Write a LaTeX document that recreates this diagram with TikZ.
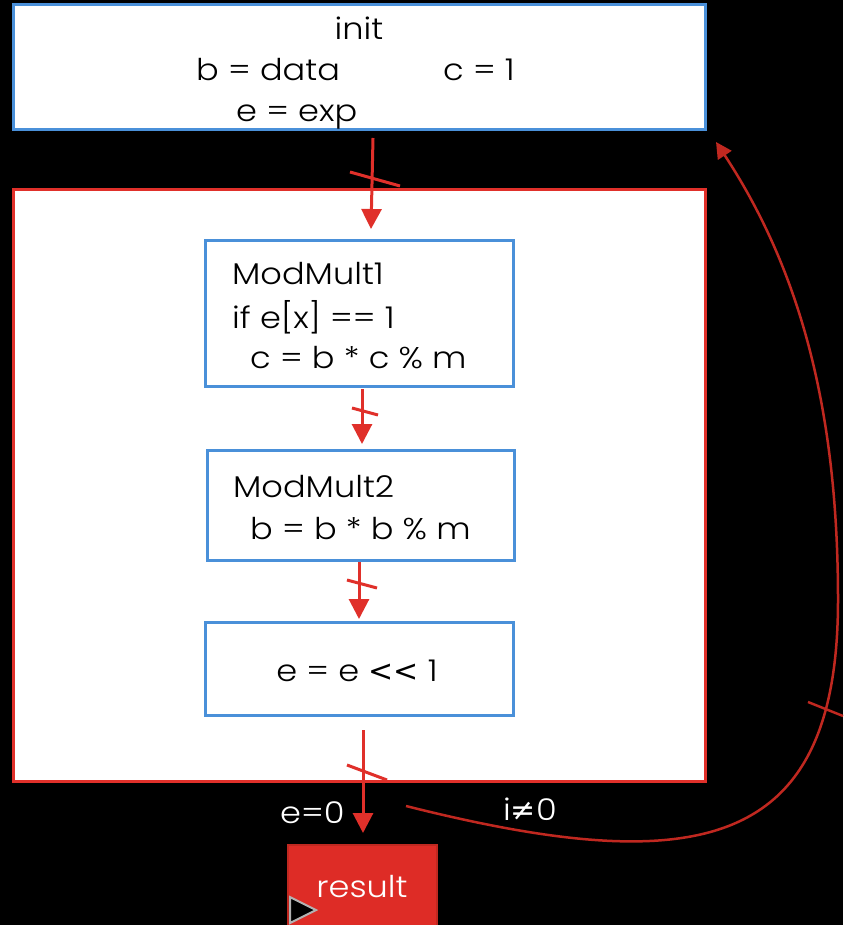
\documentclass[tikz,border=0pt]{standalone}
\usepackage{fontspec}
\setmainfont{Poppins Light}[FakeStretch=1.12]
\newfontfamily\symfont{DejaVu Sans}
\usetikzlibrary{arrows.meta}

\definecolor{boxblue}{RGB}{74,144,217}
\definecolor{boxred}{RGB}{224,48,42}
\definecolor{loopred}{RGB}{192,40,32}
\definecolor{resred}{RGB}{222,44,38}

\begin{document}
\begin{tikzpicture}[x=1pt,y=-1pt,
  bluebox/.style={draw=boxblue,line width=3pt,fill=white,rectangle,inner sep=0pt},
  redbox/.style={draw=boxred,line width=3pt,fill=white,rectangle,inner sep=0pt},
  txt/.style={anchor=base west,inner sep=0pt,font=\fontsize{30}{36}\selectfont},
  ctxt/.style={txt,anchor=base},
  wtxt/.style={txt,text=white},
  flow/.style={draw=boxred,line width=3pt,-{Triangle[length=20pt,width=20pt]}},
  tickmark/.style={draw=boxred,line width=3pt},
  loop/.style={draw=loopred,line width=2.5pt,-{Triangle[length=16pt,width=16pt]}}
]
\fill[black] (0,0) rectangle (843,925);
\useasboundingbox (0,0) rectangle (843,925);

% initialisation block
\node[bluebox,minimum width=692pt,minimum height=125pt] (init) at (359,67.5) {};
\node[ctxt] (tinit) at (359,40) {init};
\node[txt] (tb) at (196,81) {b = data};
\node[txt] (tc) at (443,81) {c = 1};
\node[txt] (te) at (236,122) {e = exp};

% loop body
\node[redbox,minimum width=692pt,minimum height=591pt] (loopbox) at (359,485.5) {};

\node[bluebox,minimum width=308pt,minimum height=146pt] (mm1) at (359,313) {};
\node[txt] at (232,284) {ModMult1};
\node[txt] at (232,328) {if e[x] == 1};
\node[txt] at (250,368) {c = b * c \% m};

\node[bluebox,minimum width=307pt,minimum height=110pt] (mm2) at (360.5,505) {};
\node[txt] at (233,497) {ModMult2};
\node[txt] at (250,539) {b = b * b \% m};

\node[bluebox,minimum width=308pt,minimum height=93pt] (shift) at (359,668.5) {};
\node[ctxt] at (357,681) {e = e {\symfont <{}<} 1};

% result block
\node[draw=loopred,line width=2pt,fill=resred,minimum width=149pt,minimum height=100pt,inner sep=0pt] (res) at (362.5,895) {};
\node[ctxt,text=white] at (362,897) {result};
\filldraw[draw=gray!60,fill=black,line width=2pt] (290,897) -- (316,910) -- (290,923) -- cycle;

% branch labels
\node[wtxt] (lzero) at (280,823) {e=0};
\node[wtxt] (lnz) at (503,820) {i{\symfont ≠}0};

% connectors
\coordinate (a0) at (373,138);
\coordinate (a1) at (371,229);
\draw[flow] (a0) -- (a1);
\draw[tickmark] (350,172) -- (400,186);

\coordinate (b0) at (362,389);
\coordinate (b1) at (362,444);
\draw[flow] (b0) -- (b1);
\draw[tickmark] (352,408) -- (378,415);

\coordinate (c0) at (359,562);
\coordinate (c1) at (359,619);
\draw[flow] (c0) -- (c1);
\draw[tickmark] (347,580) -- (377,588);

\coordinate (d0) at (363,730);
\coordinate (d1) at (363,833);
\draw[flow] (d0) -- (d1);
\draw[tickmark] (347,765) -- (387,780);

% back edge to the initialisation block
\coordinate (r0) at (406,806);
\coordinate (rmid) at (838,600);
\coordinate (r1) at (716,142);
\draw[loop] (r0) .. controls (700,880) and (838,850) .. (rmid)
  .. controls (838,410) and (800,270) .. (r1);
\draw[loopred,line width=2.5pt] (808,702) -- (843,716);
\end{tikzpicture}
\end{document}
